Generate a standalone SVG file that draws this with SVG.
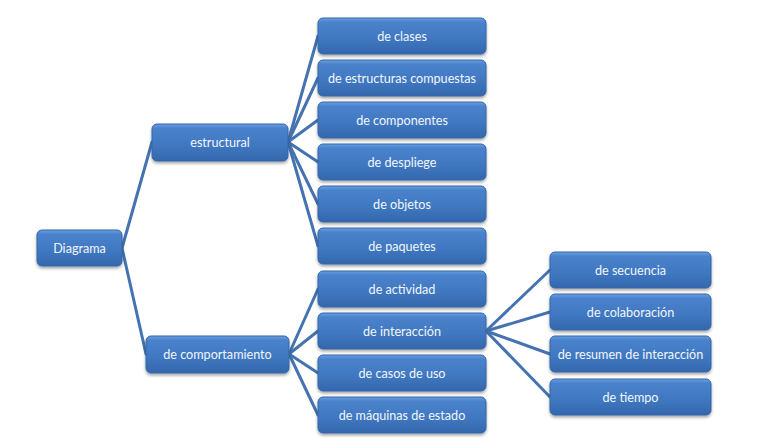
<svg xmlns="http://www.w3.org/2000/svg" width="779" height="443" viewBox="0 0 779 443">
<defs>
<linearGradient id="g" x1="0" y1="0" x2="0" y2="1">
<stop offset="0" stop-color="#6a9ee0"/>
<stop offset="0.12" stop-color="#4a82cc"/>
<stop offset="0.6" stop-color="#3f77c0"/>
<stop offset="1" stop-color="#3467ad"/>
</linearGradient>
<filter id="sh" x="-10%" y="-20%" width="120%" height="150%">
<feDropShadow dx="0" dy="2" stdDeviation="1.5" flood-color="#000" flood-opacity="0.35"/>
</filter>
</defs>
<style>
.b{fill:url(#g);stroke:#3566a8;stroke-width:1;filter:url(#sh)}
.t{font-family:Lato,"Open Sans",sans-serif;font-size:12.6px;fill:#f2f6fc;text-anchor:middle;dominant-baseline:central}
.c{stroke:#4572b0;stroke-width:3;fill:none;stroke-linecap:round}
</style>
<rect width="779" height="443" fill="#ffffff"/>
<g id="connectors">
<line class="c" x1="122" y1="248" x2="152" y2="142"/>
<line class="c" x1="122" y1="248" x2="146" y2="354"/>
<line class="c" x1="288" y1="142" x2="318" y2="36"/>
<line class="c" x1="288" y1="142" x2="318" y2="78"/>
<line class="c" x1="288" y1="142" x2="318" y2="120"/>
<line class="c" x1="288" y1="142" x2="318" y2="162"/>
<line class="c" x1="288" y1="142" x2="318" y2="204"/>
<line class="c" x1="288" y1="142" x2="318" y2="246"/>
<line class="c" x1="289" y1="354" x2="318" y2="289"/>
<line class="c" x1="289" y1="354" x2="318" y2="331"/>
<line class="c" x1="289" y1="354" x2="318" y2="373"/>
<line class="c" x1="289" y1="354" x2="318" y2="415"/>
<line class="c" x1="486" y1="331" x2="550" y2="270"/>
<line class="c" x1="486" y1="331" x2="550" y2="312"/>
<line class="c" x1="486" y1="331" x2="550" y2="354"/>
<line class="c" x1="486" y1="331" x2="550" y2="397"/>
</g>
<g id="n-diagrama"><rect class="b" x="37" y="230" width="85" height="36" rx="5"/><text class="t" x="79.5" y="248">Diagrama</text></g>
<g id="n-estructural"><rect class="b" x="152" y="124" width="136" height="37" rx="5"/><text class="t" x="220" y="142">estructural</text></g>
<g id="n-comportamiento"><rect class="b" x="146" y="336" width="143" height="37" rx="5"/><text class="t" x="217.5" y="354">de comportamiento</text></g>
<g id="n-clases"><rect class="b" x="318" y="18" width="168" height="36" rx="5"/><text class="t" x="402" y="36">de clases</text></g>
<g id="n-estructuras"><rect class="b" x="318" y="60" width="168" height="36" rx="5"/><text class="t" x="402" y="78">de estructuras compuestas</text></g>
<g id="n-componentes"><rect class="b" x="318" y="102" width="168" height="36" rx="5"/><text class="t" x="402" y="120">de componentes</text></g>
<g id="n-despliege"><rect class="b" x="318" y="144" width="168" height="36" rx="5"/><text class="t" x="402" y="162">de despliege</text></g>
<g id="n-objetos"><rect class="b" x="318" y="186" width="168" height="36" rx="5"/><text class="t" x="402" y="204">de objetos</text></g>
<g id="n-paquetes"><rect class="b" x="318" y="228" width="168" height="36" rx="5"/><text class="t" x="402" y="246">de paquetes</text></g>
<g id="n-actividad"><rect class="b" x="318" y="271" width="168" height="36" rx="5"/><text class="t" x="402" y="289">de actividad</text></g>
<g id="n-interaccion"><rect class="b" x="318" y="313" width="168" height="36" rx="5"/><text class="t" x="402" y="331">de interacción</text></g>
<g id="n-casos"><rect class="b" x="318" y="355" width="168" height="36" rx="5"/><text class="t" x="402" y="373">de casos de uso</text></g>
<g id="n-maquinas"><rect class="b" x="318" y="397" width="168" height="36" rx="5"/><text class="t" x="402" y="415">de máquinas de estado</text></g>
<g id="n-secuencia"><rect class="b" x="550" y="252" width="161" height="36" rx="5"/><text class="t" x="630.5" y="270">de secuencia</text></g>
<g id="n-colaboracion"><rect class="b" x="550" y="294" width="161" height="36" rx="5"/><text class="t" x="630.5" y="312">de colaboración</text></g>
<g id="n-resumen"><rect class="b" x="550" y="336" width="161" height="36" rx="5"/><text class="t" x="630.5" y="354">de resumen de interacción</text></g>
<g id="n-tiempo"><rect class="b" x="550" y="379" width="161" height="36" rx="5"/><text class="t" x="630.5" y="397">de tiempo</text></g>
</svg>
